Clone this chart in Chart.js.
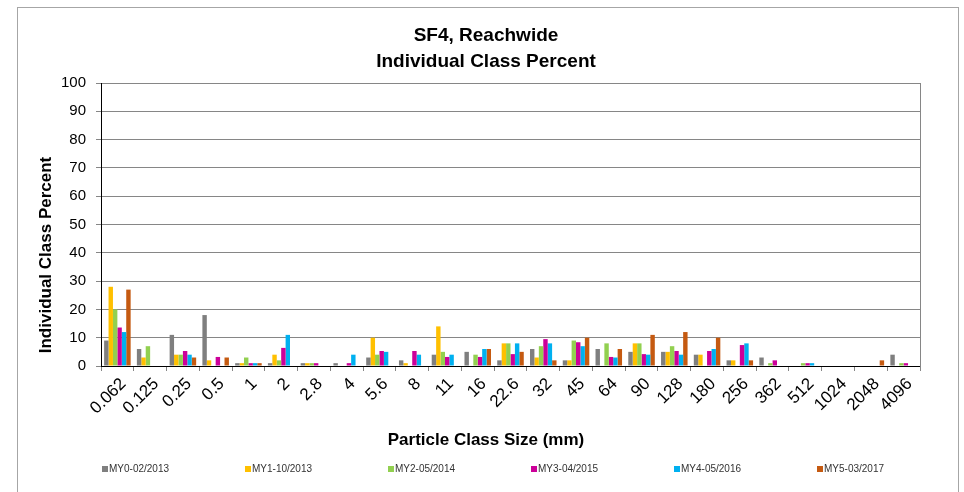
<!DOCTYPE html>
<html>
<head>
<meta charset="utf-8">
<script src="https://cdn.jsdelivr.net/npm/chart.js@4.4.1/dist/chart.umd.min.js"></script>
<style>
  html, body { margin: 0; padding: 0; background: #fff; }
  #wrap { position: relative; width: 964px; height: 492px; overflow: hidden; }
  #frame { position: absolute; left: 17px; top: 7px; width: 940px; height: 600px; border: 1px solid #a6a6a6; }
  canvas { position: absolute; left: 0; top: 0; }
</style>
</head>
<body>
<div id="wrap">
  <div id="frame"></div>
  <canvas id="classChart" width="964" height="492"></canvas>
</div>
<script>
// particle class sizes (mm)
const sizes = ['0.062', '0.125', '0.25', '0.5', '1', '2', '2.8', '4', '5.6', '8', '11', '16', '22.6',
               '32', '45', '64', '90', '128', '180', '256', '362', '512', '1024', '2048', '4096'];

// individual class percent per monitoring year
const my0 = [9, 6, 11, 18, 1, 1, 1, 1, 3, 2, 4, 5, 2, 6, 2, 6, 5, 5, 4, 2, 3, 0, 0, 0, 4];
const my1 = [28, 3, 4, 2, 1, 4, 1, 0, 10, 1, 14, 0, 8, 3, 2, 0, 8, 5, 4, 2, 0, 0, 0, 0, 0];
const my2 = [20, 7, 4, 0, 3, 2, 1, 0, 4, 0, 5, 4, 8, 7, 9, 8, 8, 7, 0, 0, 1, 1, 0, 0, 1];
const my3 = [13.6, 0, 5.3, 3.2, 1, 6.4, 1, 1, 5.3, 5.3, 3.2, 3.2, 4.2, 9.5, 8.4, 3.2, 4.2, 5.3, 5.3, 7.4, 2, 1, 0, 0, 1];
const my4 = [12, 0, 4, 0, 1, 11, 0, 4, 5, 4, 4, 6, 8, 8, 7, 3, 4, 4, 6, 8, 0, 1, 0, 0, 0];
const my5 = [27, 0, 3, 3, 1, 0, 0, 0, 0, 0, 0, 6, 5, 2, 10, 6, 11, 12, 10, 2, 0, 0, 0, 2, 0];

const seriesNames = ['MY0-02/2013', 'MY1-10/2013', 'MY2-05/2014', 'MY3-04/2015', 'MY4-05/2016', 'MY5-03/2017'];
const seriesColors = ['#7f7f7f', '#ffc000', '#92d050', '#cc0099', '#00b0f0', '#c55a11'];

const yTicks = [0, 10, 20, 30, 40, 50, 60, 70, 80, 90, 100];

const FONT = '"Liberation Sans", Arial, sans-serif';
const GRID = '#868686';

// axis titles and the spread-out legend, placed where Excel put them
const excelExtras = {
    id: 'excelExtras',
    afterDraw(chart) {
        const c = chart.ctx;
        c.save();
        c.fillStyle = '#000';
        c.font = 'bold 17px ' + FONT;
        c.textAlign = 'center';
        c.textBaseline = 'middle';
        c.fillText('Particle Class Size (mm)', 486, 440);
        c.save();
        c.translate(46, 255);
        c.rotate(-Math.PI / 2);
        c.fillText('Individual Class Percent', 0, 0);
        c.restore();

        c.font = '10px ' + FONT;
        c.textAlign = 'left';
        chart.data.datasets.forEach((ds, i) => {
            const x = 102 + i * 143;
            c.fillStyle = ds.backgroundColor;
            c.fillRect(x, 466, 6, 6);
            c.fillStyle = '#333';
            c.fillText(ds.label, x + 7, 469.5);
        });
        c.restore();
    }
};

const ctx = document.getElementById('classChart').getContext('2d');

const classChart = new Chart(ctx, {
    type: 'bar',
    data: {
        labels: sizes,
        datasets: [my0, my1, my2, my3, my4, my5].map((vals, i) => ({
            label: seriesNames[i],
            data: vals,
            backgroundColor: seriesColors[i],
            borderWidth: 0,
            categoryPercentage: 0.81,
            barPercentage: 1.0
        }))
    },
    options: {
        responsive: false,
        animation: false,
        devicePixelRatio: 1,
        layout: { padding: { left: 30, right: 22, top: 0, bottom: 0 } },
        plugins: {
            title: {
                display: true,
                text: ['SF4, Reachwide', 'Individual Class Percent'],
                color: '#000',
                font: { family: FONT, size: 19, weight: 'bold', lineHeight: 1.37 },
                padding: { top: 23, bottom: 8 }
            },
            legend: { display: false },
            tooltip: { enabled: false }
        },
        scales: {
            x: {
                grid: { offset: true, drawOnChartArea: false, drawTicks: true, tickLength: 5, color: GRID },
                border: { display: true, color: '#000', width: 1 },
                ticks: {
                    autoSkip: false,
                    minRotation: 45,
                    maxRotation: 45,
                    padding: 3,
                    labelOffset: 6,
                    color: '#000',
                    font: { family: FONT, size: 17 }
                },
                afterFit: (s) => { s.height = 126; }
            },
            y: {
                min: 0,
                max: 100,
                afterBuildTicks: (s) => { s.ticks = yTicks.map(v => ({ value: v })); },
                grid: { color: GRID, tickLength: 5 },
                border: { display: true, color: '#000', width: 1 },
                ticks: {
                    autoSkip: false,
                    padding: 10,
                    color: '#000',
                    font: { family: FONT, size: 15 }
                },
                afterFit: (s) => { s.width = 71; }
            },
            y2: {
                position: 'right',
                min: 0,
                max: 100,
                grid: { drawOnChartArea: false, drawTicks: false },
                border: { display: true, color: GRID, width: 1 },
                ticks: { display: false },
                afterFit: (s) => { s.width = 22; }
            }
        }
    },
    plugins: [excelExtras]
});
</script>
</body>
</html>
